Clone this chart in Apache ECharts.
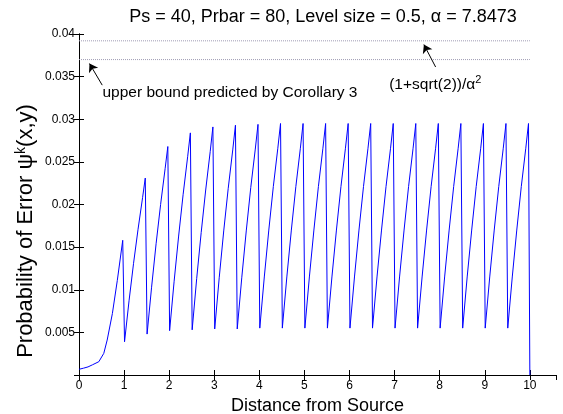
<!DOCTYPE html>
<html>
<head>
<meta charset="utf-8">
<script src="https://cdn.jsdelivr.net/npm/echarts@6/dist/echarts.min.js"></script>
<style>
  html, body { margin: 0; padding: 0; background: #fff; }
  #chart { width: 563px; height: 414px; }
</style>
</head>
<body>
<div id="chart"></div>
<script>
// distance from source (x) and probability of error (y)
const distance = [
  0, 0.1, 0.2, 0.3, 0.44, 0.55, 0.625, 0.74, 0.85, 0.97,
  1.01, 1.11, 1.21, 1.31, 1.41, 1.47,
  1.51, 1.61, 1.71, 1.81, 1.91, 1.97,
  2.01, 2.11, 2.21, 2.31, 2.41, 2.47,
  2.51, 2.61, 2.71, 2.81, 2.91, 2.97,
  3.01, 3.11, 3.21, 3.31, 3.41, 3.47,
  3.51, 3.61, 3.71, 3.81, 3.91, 3.97,
  4.01, 4.11, 4.21, 4.31, 4.41, 4.47,
  4.51, 4.61, 4.71, 4.81, 4.91, 4.97,
  5.01, 5.11, 5.21, 5.31, 5.41, 5.47,
  5.51, 5.61, 5.71, 5.81, 5.91, 5.97,
  6.01, 6.11, 6.21, 6.31, 6.41, 6.47,
  6.51, 6.61, 6.71, 6.81, 6.91, 6.97,
  7.01, 7.11, 7.21, 7.31, 7.41, 7.47,
  7.51, 7.61, 7.71, 7.81, 7.91, 7.97,
  8.01, 8.11, 8.21, 8.31, 8.41, 8.47,
  8.51, 8.61, 8.71, 8.81, 8.91, 8.97,
  9.01, 9.11, 9.21, 9.31, 9.41, 9.47,
  9.51, 9.61, 9.71, 9.81, 9.91, 9.97,
  10.0
];
const errorProb = [
  0.00067, 0.0008, 0.00095, 0.0012, 0.00156, 0.00254, 0.0041, 0.0072, 0.0111, 0.0158,
  0.0039, 0.0087, 0.0131, 0.0171, 0.0208, 0.0231,
  0.0048, 0.0103, 0.0154, 0.0200, 0.0242, 0.0268,
  0.0052, 0.0110, 0.0163, 0.0212, 0.0256, 0.0284,
  0.0053, 0.0113, 0.0167, 0.0217, 0.0262, 0.0291,
  0.0054, 0.0114, 0.0169, 0.0219, 0.0264, 0.0293,
  0.0054, 0.0114, 0.0169, 0.0220, 0.0265, 0.0294,
  0.0055, 0.0115, 0.0170, 0.0221, 0.0266, 0.0295,
  0.0055, 0.0115, 0.0170, 0.0221, 0.0266, 0.0295,
  0.0055, 0.0115, 0.0170, 0.0221, 0.0266, 0.0295,
  0.0055, 0.0115, 0.0170, 0.0221, 0.0266, 0.0295,
  0.0055, 0.0115, 0.0170, 0.0221, 0.0266, 0.0295,
  0.0055, 0.0115, 0.0170, 0.0221, 0.0266, 0.0295,
  0.0055, 0.0115, 0.0170, 0.0221, 0.0266, 0.0295,
  0.0055, 0.0115, 0.0170, 0.0221, 0.0266, 0.0295,
  0.0055, 0.0115, 0.0170, 0.0221, 0.0266, 0.0295,
  0.0055, 0.0115, 0.0170, 0.0221, 0.0266, 0.0295,
  0.0055, 0.0115, 0.0170, 0.0221, 0.0266, 0.0295,
  0.0055, 0.0115, 0.0170, 0.0221, 0.0266, 0.0295,
  0
];

// dotted reference lines
const boundX = [0, 10];
const sqrtBound = 0.0392;      // (1+sqrt(2))/alpha^2
const corollaryBound = 0.0370; // upper bound predicted by Corollary 3

// annotation arrows: [tailX, tailY, tipX, tipY]
const sqrtArrow = [7.91, 0.03613, 7.65, 0.03876];
const corollaryArrow = [0.515, 0.0340, 0.233, 0.03653];

const FONT = '"Liberation Sans", Arial, Helvetica, sans-serif';
const chart = echarts.init(document.getElementById('chart'));

const tickStyle = { show: true, inside: true, length: 5, lineStyle: { color: '#000' } };
const lineStyle = { show: true, lineStyle: { color: '#000', width: 1 } };

const option = {
  animation: false,
  backgroundColor: '#fff',
  title: {
    text: 'Ps = 40, Prbar = 80, Level size = 0.5, α = 7.8473',
    left: 318,
    textAlign: 'center',
    top: 3,
    textStyle: { fontFamily: FONT, fontSize: 18, fontWeight: 'normal', color: '#000' }
  },
  grid: { left: 79, right: 7, top: 34, bottom: 39, outerBoundsMode: 'none' },
  xAxis: [
    {
      type: 'value',
      min: 0,
      max: 10.58,
      interval: 1,
      name: 'Distance from Source',
      nameLocation: 'middle',
      nameGap: 21,
      nameTextStyle: { fontFamily: FONT, fontSize: 18, color: '#000' },
      axisLine: lineStyle,
      axisTick: tickStyle,
      axisLabel: { fontFamily: FONT, fontSize: 12, color: '#000', margin: 5, showMaxLabel: false },
      splitLine: { show: false }
    },
    {
      type: 'value',
      position: 'top',
      min: 0,
      max: 10.58,
      interval: 1,
      axisLine: lineStyle,
      axisTick: tickStyle,
      axisLabel: { show: false },
      splitLine: { show: false }
    }
  ],
  yAxis: [
    {
      type: 'value',
      min: 0,
      max: 0.04,
      interval: 0.005,
      axisLine: lineStyle,
      axisTick: tickStyle,
      axisLabel: {
        fontFamily: FONT, fontSize: 12, color: '#000', margin: 4, showMinLabel: false,
        formatter: v => String(+v.toFixed(3))
      },
      splitLine: { show: false }
    },
    {
      type: 'value',
      position: 'right',
      min: 0,
      max: 0.04,
      interval: 0.005,
      axisLine: lineStyle,
      axisTick: tickStyle,
      axisLabel: { show: false },
      splitLine: { show: false }
    }
  ],
  series: [
    {
      name: 'error',
      type: 'line',
      data: distance.map((d, i) => [d, errorProb[i]]),
      showSymbol: false,
      symbol: 'none',
      lineStyle: { color: '#0000ff', width: 1 },
      z: 3
    },
    {
      name: 'sqrtBound',
      type: 'line',
      data: boundX.map(x => [x, sqrtBound]),
      symbol: 'none',
      lineStyle: { color: '#a09cb4', width: 1, type: 'dotted' },
      markLine: {
        silent: true,
        symbol: ['none', 'arrow'],
        symbolSize: 8,
        label: { show: false },
        lineStyle: { color: '#000', width: 1, type: 'solid' },
        data: [
          [
            { coord: [sqrtArrow[0], sqrtArrow[1]] },
            { coord: [sqrtArrow[2], sqrtArrow[3]] }
          ],
          [
            { coord: [corollaryArrow[0], corollaryArrow[1]] },
            { coord: [corollaryArrow[2], corollaryArrow[3]] }
          ]
        ]
      }
    },
    {
      name: 'corollaryBound',
      type: 'line',
      data: boundX.map(x => [x, corollaryBound]),
      symbol: 'none',
      lineStyle: { color: '#a09cb4', width: 1, type: 'dotted' }
    }
  ]
};

chart.setOption(option);

// text annotations placed at data coordinates
const p1 = chart.convertToPixel({ xAxisIndex: 0, yAxisIndex: 0 }, [0.52, 0.0331]);
const p2 = chart.convertToPixel({ xAxisIndex: 0, yAxisIndex: 0 }, [6.88, 0.0341]);
chart.setOption({
  graphic: [
    {
      type: 'text',
      x: p1[0],
      y: p1[1],
      style: {
        text: 'upper bound predicted by Corollary 3',
        font: '15.5px ' + FONT,
        fill: '#000',
        verticalAlign: 'middle'
      }
    },
    {
      type: 'text',
      x: p2[0],
      y: p2[1],
      style: {
        text: '(1+sqrt(2))/α{sup|2}',
        font: '15.5px ' + FONT,
        fill: '#000',
        verticalAlign: 'middle',
        rich: { sup: { font: '11px ' + FONT, fill: '#000', padding: [0, 0, 9, 0] } }
      }
    },
    {
      // y axis title, drawn rotated like the MATLAB ylabel
      type: 'text',
      x: 26,
      y: 231,
      rotation: Math.PI / 2,
      style: {
        text: 'Probability of Error ψ{sup|k}(x,y)',
        font: '22px ' + FONT,
        fill: '#000',
        align: 'center',
        verticalAlign: 'middle',
        rich: { sup: { font: '14px ' + FONT, fill: '#000', padding: [0, 0, 10, 0] } }
      }
    }
  ]
});
</script>
</body>
</html>
